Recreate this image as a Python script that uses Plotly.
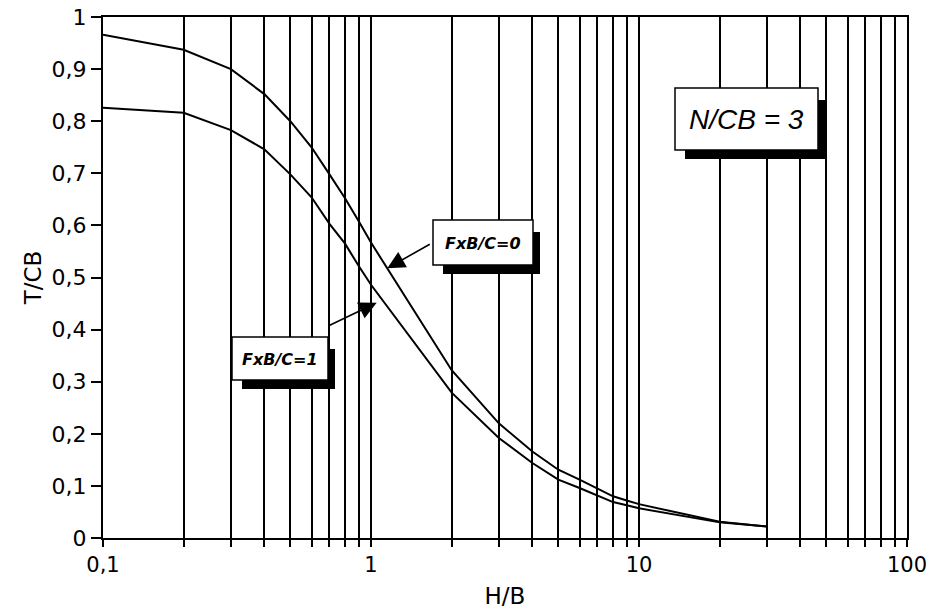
import numpy as np
import plotly.graph_objects as go

# ---- data ----
hb = [0.1, 0.2, 0.3, 0.4, 0.5, 0.6, 0.7, 0.8, 0.9, 1, 2, 3, 4, 5, 6, 7, 8, 9, 10, 20, 30]
tcb_f0 = [0.966, 0.937, 0.900, 0.852, 0.800, 0.750, 0.698, 0.652, 0.608, 0.567,
          0.322, 0.220, 0.166, 0.131, 0.112, 0.094, 0.080, 0.072, 0.065, 0.031, 0.022]
tcb_f1 = [0.826, 0.816, 0.783, 0.746, 0.698, 0.654, 0.603, 0.565, 0.522, 0.486,
          0.279, 0.192, 0.144, 0.112, 0.096, 0.081, 0.069, 0.063, 0.057, 0.030, 0.022]

y_ticks = [round(0.1 * i, 1) for i in range(11)]
y_ticktext = ["0", "0,1", "0,2", "0,3", "0,4", "0,5", "0,6", "0,7", "0,8", "0,9", "1"]
x_ticks = [m * 10.0 ** e for e in (-1, 0, 1) for m in range(1, 10)] + [100]
x_labels = {0.1: "0,1", 1: "1", 10: "10", 100: "100"}

# ---- geometry of the figure (pixels) ----
W, H = 941, 609
L, R, T, B = 103, 34, 17, 71
PW, PH = W - L - R, H - T - B


def px(x):
    return (x - L) / PW


def py(y):
    return (H - B - y) / PH


fig = go.Figure()
for ys in (tcb_f0, tcb_f1):
    fig.add_trace(go.Scatter(x=hb, y=ys, mode="lines",
                             line=dict(color="black", width=2), showlegend=False,
                             hoverinfo="skip"))

shapes = []


def box(x0, y0, x1, y1, dx=7, dy=9):
    shapes.append(dict(type="rect", xref="paper", yref="paper",
                       x0=px(x0 + 10), x1=px(x1 + dx), y0=py(y1 + dy), y1=py(y0 + 12),
                       fillcolor="black", line=dict(width=0), layer="above"))
    shapes.append(dict(type="rect", xref="paper", yref="paper",
                       x0=px(x0), x1=px(x1), y0=py(y1), y1=py(y0),
                       fillcolor="white", line=dict(color="black", width=1.5), layer="above"))


box(675, 88, 818, 150)
box(433, 220, 533, 265)
box(232, 337, 328, 380)

lab = dict(xref="paper", yref="paper", showarrow=False, xanchor="center", yanchor="middle")
annotations = [
    dict(text="<i>N/CB = 3</i>", x=px(746), y=py(119),
         font=dict(family="Liberation Sans, Arial", size=28, color="black"), **lab),
    dict(text="<b><i>FxB/C=0</i></b>", x=px(483), y=py(243),
         font=dict(family="DejaVu Sans", size=16, color="black"), **lab),
    dict(text="<b><i>FxB/C=1</i></b>", x=px(280), y=py(359),
         font=dict(family="DejaVu Sans", size=16, color="black"), **lab),
]

lx = np.log10(hb)
xa = 1.15
ya = float(np.interp(np.log10(xa), lx, tcb_f0))
annotations.append(dict(x=np.log10(xa), y=ya, xref="x", yref="y", ax=44, ay=-25,
                        showarrow=True, arrowhead=2, arrowsize=2.2, arrowwidth=1.6,
                        arrowcolor="black", text=""))
xb = 1.05
yb = float(np.interp(np.log10(xb), lx, tcb_f1)) - 0.02
annotations.append(dict(x=np.log10(xb), y=yb, xref="x", yref="y", ax=-50, ay=24,
                        showarrow=True, arrowhead=2, arrowsize=2.2, arrowwidth=1.6,
                        arrowcolor="black", text=""))

fig.update_layout(
    width=W, height=H,
    margin=dict(l=L, r=R, t=T, b=B),
    paper_bgcolor="white", plot_bgcolor="white",
    font=dict(family="DejaVu Sans", color="black"),
    shapes=shapes, annotations=annotations,
)
fig.update_xaxes(type="log", range=[-1, 2], automargin=False,
                 tickvals=x_ticks, ticktext=[x_labels.get(v, "") for v in x_ticks],
                 ticks="outside", ticklen=7, tickwidth=2, tickcolor="black",
                 showgrid=True, gridcolor="black", gridwidth=2,
                 showline=True, linecolor="black", linewidth=2, mirror=True,
                 tickfont=dict(size=21), zeroline=False,
                 title=dict(text="H/B", font=dict(size=23), standoff=14))
fig.update_yaxes(range=[0, 1], tickvals=y_ticks, ticktext=y_ticktext, automargin=False,
                 ticks="outside", ticklen=10, tickwidth=2, tickcolor="black",
                 showgrid=False, zeroline=False,
                 showline=True, linecolor="black", linewidth=2, mirror=True,
                 tickfont=dict(size=22),
                 title=dict(text="T/CB", font=dict(size=23), standoff=4))

fig.write_html("out.html", config={"displayModeBar": False},
               post_script="document.body.style.margin='0';")
